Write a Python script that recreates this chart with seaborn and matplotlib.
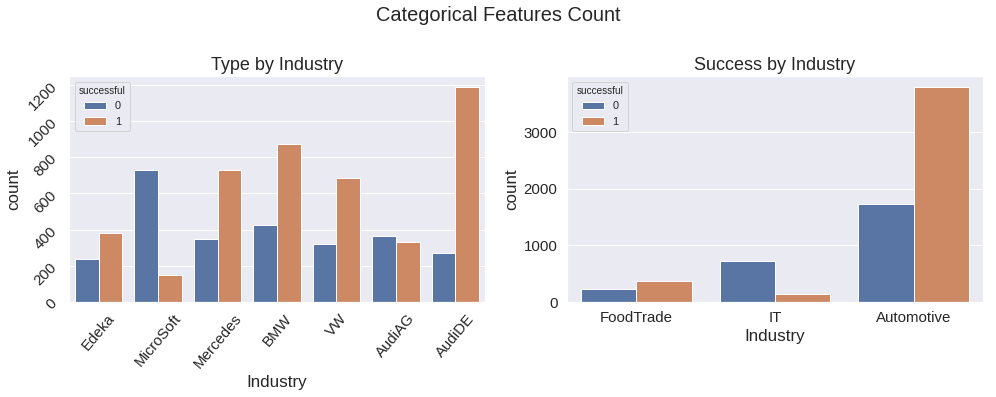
import matplotlib
matplotlib.use("Agg")
import matplotlib.pyplot as plt
import seaborn as sns
import pandas as pd

# Data
companies = ["Edeka", "MicroSoft", "Mercedes", "BMW", "VW", "AudiAG", "AudiDE"]
company_fail = [236, 729, 345, 424, 320, 367, 272]
company_success = [380, 148, 726, 874, 682, 330, 1188]

industries = ["FoodTrade", "IT", "Automotive"]
industry_fail = [236, 729, 1732]
industry_success = [380, 148, 3805]

df1 = pd.DataFrame({
    "Industry": companies * 2,
    "successful": [0] * len(companies) + [1] * len(companies),
    "count": company_fail + company_success,
})
df2 = pd.DataFrame({
    "Industry": industries * 2,
    "successful": [0] * len(industries) + [1] * len(industries),
    "count": industry_fail + industry_success,
})

sns.set_theme(style="darkgrid", palette="deep")
plt.rcParams["font.family"] = ["Liberation Sans", "DejaVu Sans"]

fig, axes = plt.subplots(1, 2, figsize=(996 / 72, 397 / 72), dpi=72)
fig.subplots_adjust(left=69 / 996, right=983 / 996, top=1 - 76 / 397,
                    bottom=1 - 302 / 397, wspace=0.197)

ax = axes[0]
sns.barplot(data=df1, x="Industry", y="count", hue="successful", ax=ax,
            order=companies, hue_order=[0, 1], palette="deep")
ax.set_title("Type by Industry", fontsize=18)
ax.set_xlabel("Industry", fontsize=17)
ax.set_ylabel("count", fontsize=17)
ax.tick_params(axis="x", labelsize=15, rotation=50)
ax.tick_params(axis="y", labelsize=15, rotation=45)
ax.legend(title="successful", fontsize=11, title_fontsize=10, loc="upper left")

ax = axes[1]
sns.barplot(data=df2, x="Industry", y="count", hue="successful", ax=ax,
            order=industries, hue_order=[0, 1], palette="deep")
ax.set_title("Success by Industry", fontsize=18)
ax.set_xlabel("Industry", fontsize=17, labelpad=3)
ax.set_ylabel("count", fontsize=17)
ax.tick_params(axis="both", labelsize=15)
ax.legend(title="successful", fontsize=11, title_fontsize=10, loc="upper left")

fig.suptitle("Categorical Features Count", fontsize=20, y=0.985)

fig.savefig("out.png", dpi=72)
